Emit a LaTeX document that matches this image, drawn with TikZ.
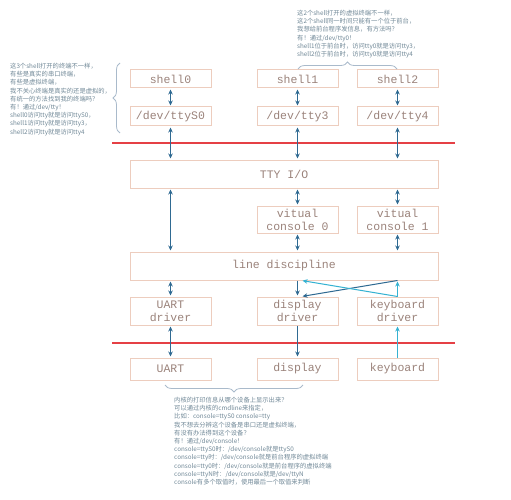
\documentclass[tikz,border=0pt]{standalone}
\usepackage{fontspec}
\setmonofont{Liberation Mono}
\newfontfamily\cjk{Noto Sans CJK SC}
\usetikzlibrary{arrows.meta,decorations.pathreplacing}
\definecolor{boxline}{HTML}{EDCDBE}
\definecolor{boxtext}{HTML}{9A827A}
\definecolor{darkarrow}{HTML}{2F6A92}
\definecolor{lightarrow}{HTML}{35B2D2}
\definecolor{redrule}{rgb}{0.9,0.25,0.27}
\definecolor{notetext}{HTML}{6F8796}
\definecolor{bracecol}{HTML}{A9BACB}
\begin{document}
\begin{tikzpicture}[x=1pt,y=-1pt,
    box/.style={draw=boxline,line width=1pt,text=boxtext,align=center,inner sep=1pt,
        font=\ttfamily\fontsize{11.5}{13}\selectfont,minimum width=81pt,minimum height=28pt},
    wide/.style={box,minimum width=308pt},
    note/.style={anchor=north west,align=left,inner sep=0pt,text=notetext,
        font=\cjk\fontsize{6.3}{8.2}\selectfont},
    redbar/.style={fill=redrule,draw=none},
    dbl/.style={draw=darkarrow,line width=1pt,{Stealth[length=5pt,width=4.5pt]}-{Stealth[length=5pt,width=4.5pt]},shorten <=1pt,shorten >=1pt},
    one/.style={draw=darkarrow,line width=1pt,-{Stealth[length=5pt,width=4.5pt]},shorten >=1pt},
    kbd/.style={draw=lightarrow,line width=1pt,-{Stealth[length=5pt,width=4.5pt]},shorten >=1pt},
    curly/.style={draw=bracecol,line width=0.8pt,decorate,decoration={brace,amplitude=7pt}}]
    \useasboundingbox (0,0) rectangle (511,500);
    %% user space
    \node[box,minimum height=18pt] (shell0) at (170.5,79) {shell0};
    \node[box,minimum height=18pt] (shell1) at (297.5,79) {shell1};
    \node[box,minimum height=18pt] (shell2) at (397.5,79) {shell2};
    \node[box,minimum height=19pt] (ttyS0) at (170.5,116.5) {/dev/ttyS0};
    \node[box,minimum height=19pt] (tty3) at (297.5,116.5) {/dev/tty3};
    \node[box,minimum height=19pt] (tty4) at (397.5,116.5) {/dev/tty4};
    \fill[redbar] (112,142.3) rectangle (455,143.7);
    %% kernel
    \node[wide] (ttyio) at (284,174) {TTY I/O};
    \node[box,minimum height=27pt] (vcon0) at (297.5,219.5) {vitual\\console 0};
    \node[box,minimum height=27pt] (vcon1) at (397.5,219.5) {vitual\\console 1};
    \node[wide] (ldisc) at (284,266) {line discipline};
    \node[box] (uartdrv) at (170.5,311) {UART\\driver};
    \node[box] (dispdrv) at (297.5,311) {display\\driver};
    \node[box] (kbddrv) at (397.5,311) {keyboard\\driver};
    \fill[redbar] (112,342.3) rectangle (455,343.7);
    %% hardware
    \node[box,minimum height=22pt] (uart) at (170.5,369) {UART};
    \node[box,minimum height=22pt] (disp) at (297.5,369) {display};
    \node[box,minimum height=22pt] (kbd) at (397.5,369) {keyboard};
    %% Arrows
    \draw[dbl] (shell0) -- (ttyS0);
    \draw[dbl] (shell1) -- (tty3);
    \draw[dbl] (shell2) -- (tty4);
    \draw[dbl] (ttyS0) -- (ttyS0 |- ttyio.north);
    \draw[dbl] (tty3) -- (tty3 |- ttyio.north);
    \draw[dbl] (tty4) -- (tty4 |- ttyio.north);
    \draw[dbl] (uartdrv |- ttyio.south) -- (uartdrv |- ldisc.north);
    \draw[dbl] (vcon0 |- ttyio.south) -- (vcon0);
    \draw[dbl] (vcon1 |- ttyio.south) -- (vcon1);
    \draw[dbl] (vcon0) -- (vcon0 |- ldisc.north);
    \draw[dbl] (vcon1) -- (vcon1 |- ldisc.north);
    \draw[dbl] (uartdrv |- ldisc.south) -- (uartdrv);
    \draw[dbl] (uartdrv) -- (uart);
    \draw[one] (dispdrv) -- (disp);
    \draw[kbd] (kbd) -- (kbddrv);
    %% Crossing
    \coordinate (ldL) at ([xshift=4pt]ldisc.south -| dispdrv);
    \coordinate (ddR) at ([xshift=4pt]dispdrv.north);
    \draw[one] (ldisc.south -| dispdrv) -- (dispdrv);
    \draw[one] (ldisc.south -| kbddrv) -- (ddR);
    \draw[kbd] (kbddrv) -- (ldisc.south -| kbddrv);
    \draw[kbd] (kbddrv.north) -- (ldL);
    %% Braces
    \draw[curly] (120,133) -- (120,63);
    \draw[curly] (298,69) -- (397,69);
    \draw[curly] (303,385) -- (165,385);
    %% Notes
    \node[note] (noteL) at (10,63) {这3个shell打开的终端不一样，\\有些是真实的串口终端，\\有些是虚拟终端，\\我不关心终端是真实的还是虚拟的，\\有统一的方法找到我的终端吗？\\有！通过/dev/tty！\\shell0访问tty就是访问ttyS0，\\shell1访问tty就是访问tty3，\\shell2访问tty就是访问tty4};
    \node[note] (noteT) at (297,10) {这2个shell打开的虚拟终端不一样，\\这2个shell同一时间只能有一个位于前台，\\我想给前台程序发信息，有方法吗？\\有！通过/dev/tty0！\\shell1位于前台时，访问tty0就是访问tty3，\\shell2位于前台时，访问tty0就是访问tty4};
    \node[note] (noteB) at (174,397) {内核的打印信息从哪个设备上显示出来？\\可以通过内核的cmdline来指定，\\比如：console=ttyS0 console=tty\\我不想去分辨这个设备是串口还是虚拟终端，\\有没有办法得到这个设备？\\有！通过/dev/console！\\console=ttyS0时：/dev/console就是ttyS0\\console=tty时：/dev/console就是前台程序的虚拟终端\\console=tty0时：/dev/console就是前台程序的虚拟终端\\console=ttyN时：/dev/console就是/dev/ttyN\\console有多个取值时，使用最后一个取值来判断};
\end{tikzpicture}
\end{document}
